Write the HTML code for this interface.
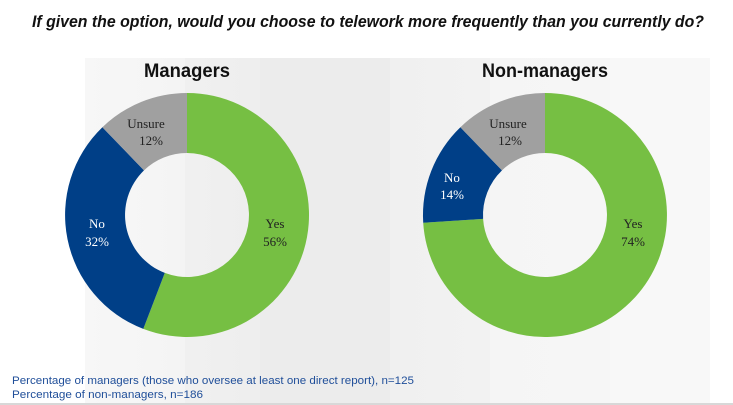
<!DOCTYPE html>
<html><head><style>
body{margin:0;width:733px;height:405px;overflow:hidden;font-family:"Liberation Sans",sans-serif;
background:linear-gradient(90deg,#fff 0,#fff 85px,#f7f7f7 85px,#f4f4f4 185px,#f0f0f0 185px,#eeeeee 260px,#ececec 260px,#ececec 390px,#f0f0f0 390px,#f2f2f2 490px,#f5f5f5 490px,#f6f6f6 610px,#f8f8f8 610px,#f8f8f8 710px,#fff 710px);}
.t{position:absolute;left:0;width:733px;top:0;height:58px;background:#fff}
</style></head><body>
<div class="t"></div>
<svg width="733" height="405" style="position:absolute;left:0;top:0">
<text x="32" y="27" font-size="16.5" font-weight="bold" font-style="italic" fill="#111" textLength="672" lengthAdjust="spacingAndGlyphs">If given the option, would you choose to telework more frequently than you currently do?</text>
<text x="187" y="77" font-size="19" font-weight="bold" fill="#111" text-anchor="middle" textLength="86" lengthAdjust="spacingAndGlyphs">Managers</text>
<text x="545" y="77" font-size="19" font-weight="bold" fill="#111" text-anchor="middle" textLength="126" lengthAdjust="spacingAndGlyphs">Non-managers</text>
<g fill-rule="evenodd">
<path d="M187 93 A122 122 0 1 1 143.3 328.9 L164.8 272.9 A62 62 0 1 0 187 153Z" fill="#76bf43"/>
<path d="M143.3 328.9 A122 122 0 0 1 102.4 127.2 L144 170.4 A62 62 0 0 0 164.8 272.9Z" fill="#003f87"/>
<path d="M102.4 127.2 A122 122 0 0 1 187 93 L187 153 A62 62 0 0 0 144 170.4Z" fill="#a0a0a0"/>
<path d="M545 93 A122 122 0 1 1 423.2 222.7 L483.1 218.9 A62 62 0 1 0 545 153Z" fill="#76bf43"/>
<path d="M423.2 222.7 A122 122 0 0 1 460.4 127.2 L502 170.4 A62 62 0 0 0 483.1 218.9Z" fill="#003f87"/>
<path d="M460.4 127.2 A122 122 0 0 1 545 93 L545 153 A62 62 0 0 0 502 170.4Z" fill="#a0a0a0"/>
</g>
<g font-family="Liberation Serif,serif" font-size="13" text-anchor="middle">
<text x="146" y="128" fill="#222">Unsure</text><text x="151" y="145" fill="#222">12%</text>
<text x="97" y="228" fill="#fff">No</text><text x="97" y="246" fill="#fff">32%</text>
<text x="275" y="228" fill="#222">Yes</text><text x="275" y="246" fill="#222">56%</text>
<text x="508" y="128" fill="#222">Unsure</text><text x="510" y="145" fill="#222">12%</text>
<text x="452" y="182" fill="#fff">No</text><text x="452" y="199" fill="#fff">14%</text>
<text x="633" y="228" fill="#222">Yes</text><text x="633" y="246" fill="#222">74%</text>
</g>
<g font-size="11" fill="#1f4e99">
<text x="12" y="384" textLength="402" lengthAdjust="spacingAndGlyphs">Percentage of managers (those who oversee at least one direct report), n=125</text>
<text x="12" y="398" textLength="191" lengthAdjust="spacingAndGlyphs">Percentage of non-managers, n=186</text>
</g>
<rect x="0" y="403" width="733" height="2" fill="#d8d8d8"/>
</svg>
</body></html>
